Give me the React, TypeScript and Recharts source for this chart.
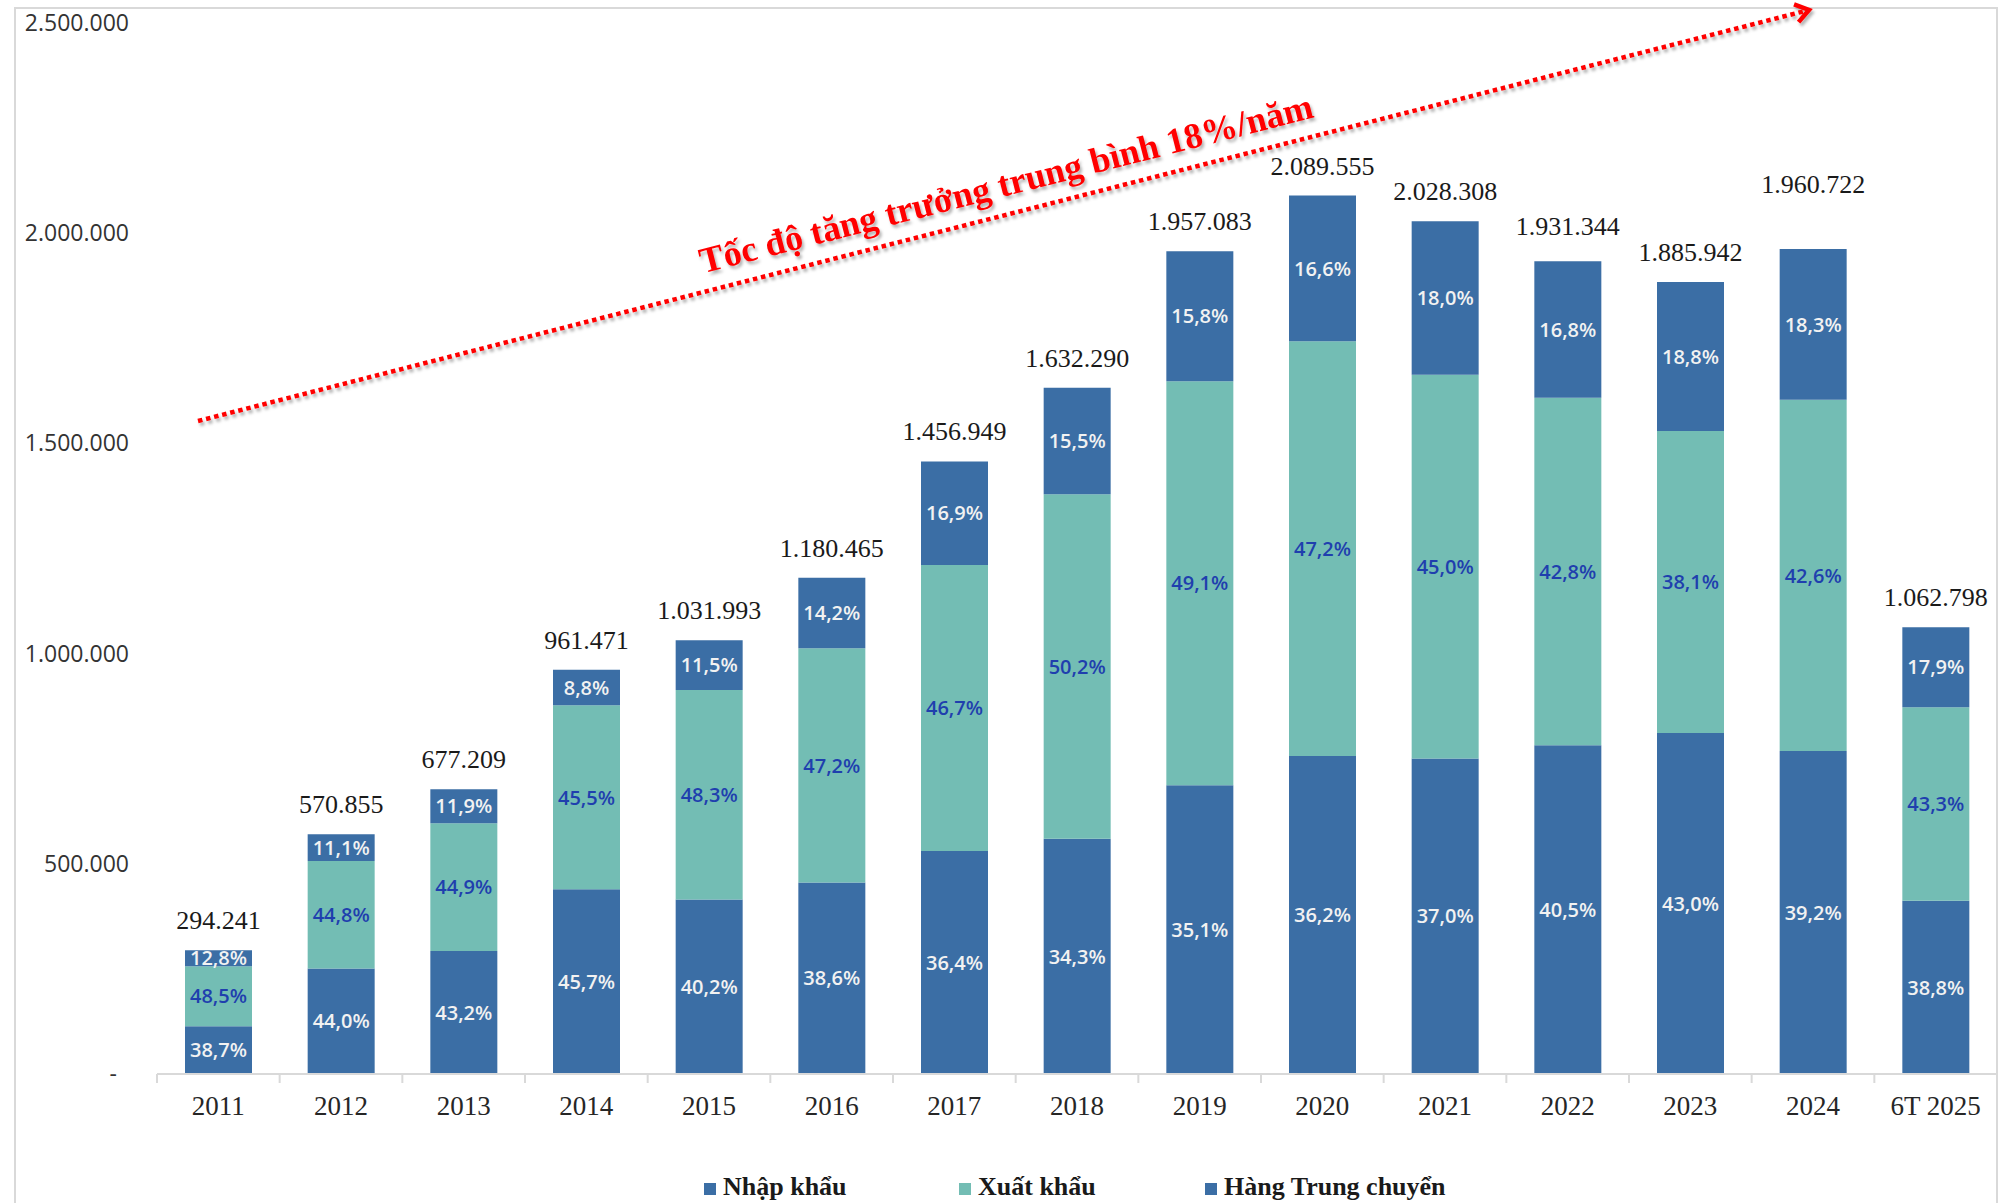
import React from 'react'
import { BarChart, Bar, XAxis, YAxis, LabelList } from 'recharts'

const categories = ['2011', '2012', '2013', '2014', '2015', '2016', '2017', '2018', '2019', '2020', '2021', '2022', '2023', '2024', '6T 2025']
const totals = [294241, 570855, 677209, 961471, 1031993, 1180465, 1456949, 1632290, 1957083, 2089555, 2028308, 1931344, 1885942, 1960722, 1062798]
const importPct = [38.7, 44.0, 43.2, 45.7, 40.2, 38.6, 36.4, 34.3, 35.1, 36.2, 37.0, 40.5, 43.0, 39.2, 38.8]
const exportPct = [48.5, 44.8, 44.9, 45.5, 48.3, 47.2, 46.7, 50.2, 49.1, 47.2, 45.0, 42.8, 38.1, 42.6, 43.3]
const transshipPct = [12.8, 11.1, 11.9, 8.8, 11.5, 14.2, 16.9, 15.5, 15.8, 16.6, 18.0, 16.8, 18.8, 18.3, 17.9]
const yTicks = [0, 500000, 1000000, 1500000, 2000000, 2500000]

const seriesNames = ['Nhập khẩu', 'Xuất khẩu', 'Hàng Trung chuyển']
const annotation = 'Tốc độ tăng trưởng trung bình 18%/năm'

const BLUE = '#3b6ea5'
const TEAL = '#73bdb4'

const data = categories.map((name, i) => ({
  name,
  total: totals[i],
  nk: (totals[i] * importPct[i]) / 100,
  xk: (totals[i] * exportPct[i]) / 100,
  tc: (totals[i] * transshipPct[i]) / 100,
  nkPct: importPct[i],
  xkPct: exportPct[i],
  tcPct: transshipPct[i],
}))

const W = 2000
const H = 1203
const Y_AXIS_W = 157
const RIGHT = 3
const BAND = (W - Y_AXIS_W - RIGHT) / categories.length

// a couple of the total labels sit higher in the original
const labelLift: Record<string, number> = { '2022': 5, '2024': 35 }

const fmtNum = (v: number) => String(Math.round(v)).replace(/\B(?=(\d{3})+(?!\d))/g, '.')
const fmtPct = (v: number) => v.toFixed(1).replace('.', ',') + '%'

const YTick = (props: any) => {
  const { x, y, payload } = props
  const zero = payload.value === 0
  return (
    <text x={zero ? x - 12 : x} y={y} dy="0.35em" textAnchor="end" fontFamily="Open Sans" fontSize={23} fill="#333">
      {zero ? '-' : fmtNum(payload.value)}
    </text>
  )
}

const XTick = (props: any) => {
  const { x, y, payload } = props
  return (
    <g>
      <line x1={x - BAND / 2} x2={x - BAND / 2} y1={y} y2={y + 9} stroke="#d9d9d9" strokeWidth={2} />
      <text x={x} y={y + 41} textAnchor="middle" fontFamily="Liberation Serif" fontSize={27} fill="#262626">
        {payload.value}
      </text>
    </g>
  )
}

const pctLabel = (color: string) => (props: any) => {
  const { x, y, width, height, value } = props
  return (
    <text
      x={x + width / 2}
      y={y + height / 2}
      dy="0.36em"
      textAnchor="middle"
      fontFamily="Open Sans"
      fontWeight={600}
      fontSize={20}
      fill={color}
    >
      {fmtPct(value)}
    </text>
  )
}

const TotalLabel = (props: any) => {
  const { x, y, width, value, index } = props
  const lift = labelLift[categories[index]] || 0
  return (
    <text x={x + width / 2} y={y - 21 - lift} textAnchor="middle" fontFamily="Liberation Serif" fontSize={26} fill="#1a1a1a">
      {fmtNum(value)}
    </text>
  )
}

function Overlay() {
  const start = { x: 198, y: 421 }
  const tip = { x: 1809, y: 10 }
  const dx = tip.x - start.x
  const dy = tip.y - start.y
  const len = Math.hypot(dx, dy)
  const ux = dx / len
  const uy = dy / len
  // chevron arms: the back direction rotated by +/- 35 degrees
  const arm = (sign: number) => {
    const a = (sign * 35 * Math.PI) / 180
    const bx = -ux
    const by = -uy
    return {
      x: tip.x + (bx * Math.cos(a) - by * Math.sin(a)) * 16,
      y: tip.y + (bx * Math.sin(a) + by * Math.cos(a)) * 16,
    }
  }
  const a1 = arm(1)
  const a2 = arm(-1)
  const angle = (Math.atan2(dy, dx) * 180) / Math.PI

  const legendX = [704, 959, 1205]
  const legendColors = [BLUE, TEAL, BLUE]

  return (
    <svg width={W} height={H} style={{ position: 'absolute', left: 0, top: 0, pointerEvents: 'none' }}>
      <defs>
        <filter id="shadow" x="-5%" y="-20%" width="110%" height="140%">
          <feDropShadow dx="2" dy="3" stdDeviation="1.6" floodColor="#000" floodOpacity="0.3" />
        </filter>
      </defs>
      <g filter="url(#shadow)">
        <line x1={start.x} y1={start.y} x2={tip.x - ux * 3} y2={tip.y - uy * 3} stroke="#ff0000" strokeWidth={4.5} strokeDasharray="4.5 3.8" />
        <polyline points={`${a1.x},${a1.y} ${tip.x},${tip.y} ${a2.x},${a2.y}`} fill="none" stroke="#ff0000" strokeWidth={4.5} />
        <text
          x={1006}
          y={183}
          dy="0.35em"
          textAnchor="middle"
          transform={`rotate(${angle}, 1006, 183)`}
          fontFamily="Liberation Serif"
          fontWeight={700}
          fontSize={36}
          fill="#ff0000"
        >
          {annotation}
        </text>
      </g>
      {seriesNames.map((s, i) => (
        <g key={s}>
          <rect x={legendX[i]} y={1183} width={12} height={12} fill={legendColors[i]} />
          <text x={legendX[i] + 19} y={1195} fontFamily="Liberation Serif" fontWeight={700} fontSize={26} fill="#1a1a1a">
            {s}
          </text>
        </g>
      ))}
    </svg>
  )
}

export default function App() {
  return (
    <div style={{ position: 'absolute', left: 0, top: 0, width: W, height: H, background: '#fff', overflow: 'hidden' }}>
      <div
        style={{
          position: 'absolute',
          left: 14,
          top: 7,
          width: 1984,
          height: 1300,
          border: '2px solid #d9d9d9',
          boxSizing: 'border-box',
        }}
      />
      <BarChart width={W} height={H} data={data} margin={{ top: 23, right: RIGHT, bottom: 0, left: 0 }} barSize={67}>
        <XAxis
          dataKey="name"
          height={129}
          interval={0}
          tickLine={false}
          tickSize={0}
          tickMargin={0}
          axisLine={{ stroke: '#d9d9d9', strokeWidth: 2 }}
          tick={<XTick />}
        />
        <YAxis
          width={Y_AXIS_W}
          domain={[0, 2500000]}
          ticks={yTicks}
          axisLine={false}
          tickLine={false}
          tickSize={0}
          tickMargin={28}
          tick={<YTick />}
        />
        <Bar dataKey="nk" name={seriesNames[0]} stackId="a" fill={BLUE} isAnimationActive={false}>
          <LabelList dataKey="nkPct" content={pctLabel('#f2f2f2')} />
        </Bar>
        <Bar dataKey="xk" name={seriesNames[1]} stackId="a" fill={TEAL} isAnimationActive={false}>
          <LabelList dataKey="xkPct" content={pctLabel('#1f3fae')} />
        </Bar>
        <Bar dataKey="tc" name={seriesNames[2]} stackId="a" fill={BLUE} isAnimationActive={false}>
          <LabelList dataKey="tcPct" content={pctLabel('#f2f2f2')} />
          <LabelList dataKey="total" content={<TotalLabel />} />
        </Bar>
      </BarChart>
      <Overlay />
    </div>
  )
}
